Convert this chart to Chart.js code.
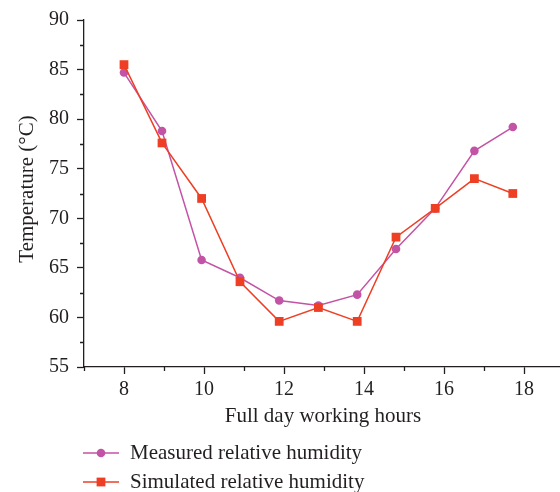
<!DOCTYPE html>
<html>
<head>
<meta charset="utf-8">
<script src="https://cdn.jsdelivr.net/npm/chart.js@4.4.1/dist/chart.umd.min.js"></script>
<style>
html,body{margin:0;padding:0;background:#fff;}
#wrap{width:560px;height:492px;position:relative;}
</style>
</head>
<body>
<div id="wrap"><canvas id="c" width="560" height="492"></canvas></div>
<script>
const hours = [8.0, 8.95, 9.94, 10.9, 11.88, 12.86, 13.83, 14.8, 15.78, 16.76, 17.72];
const measured = [84.7, 78.8, 65.8, 64.0, 61.7, 61.2, 62.3, 66.9, 71.0, 76.8, 79.2];
const simulated = [85.5, 77.6, 72.0, 63.6, 59.6, 61.0, 59.6, 68.1, 71.0, 74.0, 72.5];
const xTicks = [7, 8, 9, 10, 11, 12, 13, 14, 15, 16, 17, 18];
const yTicks = [55, 57.5, 60, 62.5, 65, 67.5, 70, 72.5, 75, 77.5, 80, 82.5, 85, 87.5, 90];
const seriesNames = ['Measured relative humidity', 'Simulated relative humidity'];
const xTitle = 'Full day working hours';
const yTitle = 'Temperature (°C)';

const MAG = '#C353A5';
const RED = '#EE3F24';
const INK = '#231F20';
const FONT = '"Liberation Serif", "Times New Roman", serif';

function pts(xs, ys){ return xs.map((x,i)=>({x:x, y:ys[i]})); }
const isMajorX = (v) => v % 2 === 0;
const isMajorY = (v) => v % 5 === 0;

const drawExtras = {
  id: 'extras',
  afterDraw(chart){
    const ctx = chart.ctx;
    const xs = chart.scales.x, ys = chart.scales.y;
    const ca = chart.chartArea;
    ctx.save();
    ctx.strokeStyle = INK;
    ctx.lineWidth = 1.3;
    // minor ticks
    ctx.beginPath();
    xTicks.filter(v => !isMajorX(v)).forEach(v => {
      const px = Math.round(xs.getPixelForValue(v)) + 0.5;
      ctx.moveTo(px, ca.bottom); ctx.lineTo(px, ca.bottom + 4);
    });
    yTicks.filter(v => !isMajorY(v)).forEach(v => {
      const py = Math.round(ys.getPixelForValue(v)) + 0.5;
      ctx.moveTo(ca.left, py); ctx.lineTo(ca.left - 4, py);
    });
    ctx.stroke();
    // titles
    ctx.fillStyle = INK;
    ctx.font = '21px ' + FONT;
    ctx.textAlign = 'center';
    ctx.textBaseline = 'middle';
    ctx.fillText(xTitle, 323, 416);
    ctx.save();
    ctx.translate(27, 189);
    ctx.rotate(-Math.PI / 2);
    ctx.fillText(yTitle, 0, 0);
    ctx.restore();
    // legend
    const items = [
      {name: seriesNames[0], color: MAG, style: 'circle', y: 453},
      {name: seriesNames[1], color: RED, style: 'rect', y: 482}
    ];
    items.forEach(it => {
      ctx.strokeStyle = it.color;
      ctx.lineWidth = 1.5;
      ctx.beginPath();
      ctx.moveTo(83, it.y); ctx.lineTo(119, it.y);
      ctx.stroke();
      ctx.fillStyle = it.color;
      if (it.style === 'circle') {
        ctx.beginPath(); ctx.arc(101, it.y, 4.3, 0, Math.PI * 2); ctx.fill();
      } else {
        ctx.fillRect(101 - 4.4, it.y - 4.4, 8.8, 8.8);
      }
      ctx.fillStyle = INK;
      ctx.textAlign = 'left';
      ctx.font = '21px ' + FONT;
      ctx.fillText(it.name, 130, it.y);
    });
    ctx.restore();
  }
};

new Chart(document.getElementById('c'), {
  type: 'scatter',
  data: {
    datasets: [
      {
        label: seriesNames[0],
        data: pts(hours, measured),
        showLine: true,
        borderColor: MAG,
        backgroundColor: MAG,
        borderWidth: 1.5,
        pointStyle: 'circle',
        pointRadius: 4.3,
        pointBorderWidth: 0,
        pointHoverRadius: 4.3,
        order: 2
      },
      {
        label: seriesNames[1],
        data: pts(hours, simulated),
        showLine: true,
        borderColor: RED,
        backgroundColor: RED,
        borderWidth: 1.5,
        pointStyle: 'rect',
        pointRadius: 6.2,
        pointBorderWidth: 0,
        pointHoverRadius: 6.2,
        order: 1
      }
    ]
  },
  options: {
    responsive: false,
    animation: false,
    events: [],
    layout: {autoPadding: false, padding: {top: 19, left: 0, right: 0, bottom: 0}},
    plugins: {legend: {display: false}, tooltip: {enabled: false}},
    scales: {
      x: {
        type: 'linear',
        min: 7, max: 18.9,
        afterBuildTicks(s){ s.ticks = xTicks.map(v => ({value: v})); },
        afterFit(s){ s.height = 125; s.paddingRight = 0; },
        border: {display: true, color: INK, width: 1.3},
        grid: {
          drawOnChartArea: false, drawTicks: true, tickLength: 7,
          tickWidth: 1.3,
          tickColor: (c) => (c.tick && isMajorX(c.tick.value)) ? INK : 'rgba(0,0,0,0)'
        },
        ticks: {
          autoSkip: false, maxRotation: 0, padding: 4,
          color: INK, font: {family: FONT, size: 20},
          callback: (v) => isMajorX(v) ? String(v) : ''
        }
      },
      y: {
        type: 'linear',
        min: 55, max: 90,
        afterBuildTicks(s){ s.ticks = yTicks.map(v => ({value: v})); },
        afterFit(s){ s.width = 84; },
        border: {display: true, color: INK, width: 1.3},
        grid: {
          drawOnChartArea: false, drawTicks: true, tickLength: 7,
          tickWidth: 1.3,
          tickColor: (c) => (c.tick && isMajorY(c.tick.value)) ? INK : 'rgba(0,0,0,0)'
        },
        ticks: {
          autoSkip: false, padding: 8,
          color: INK, font: {family: FONT, size: 20},
          callback: (v) => isMajorY(v) ? String(v) : ''
        }
      }
    }
  },
  plugins: [drawExtras]
});
</script>
</body>
</html>
